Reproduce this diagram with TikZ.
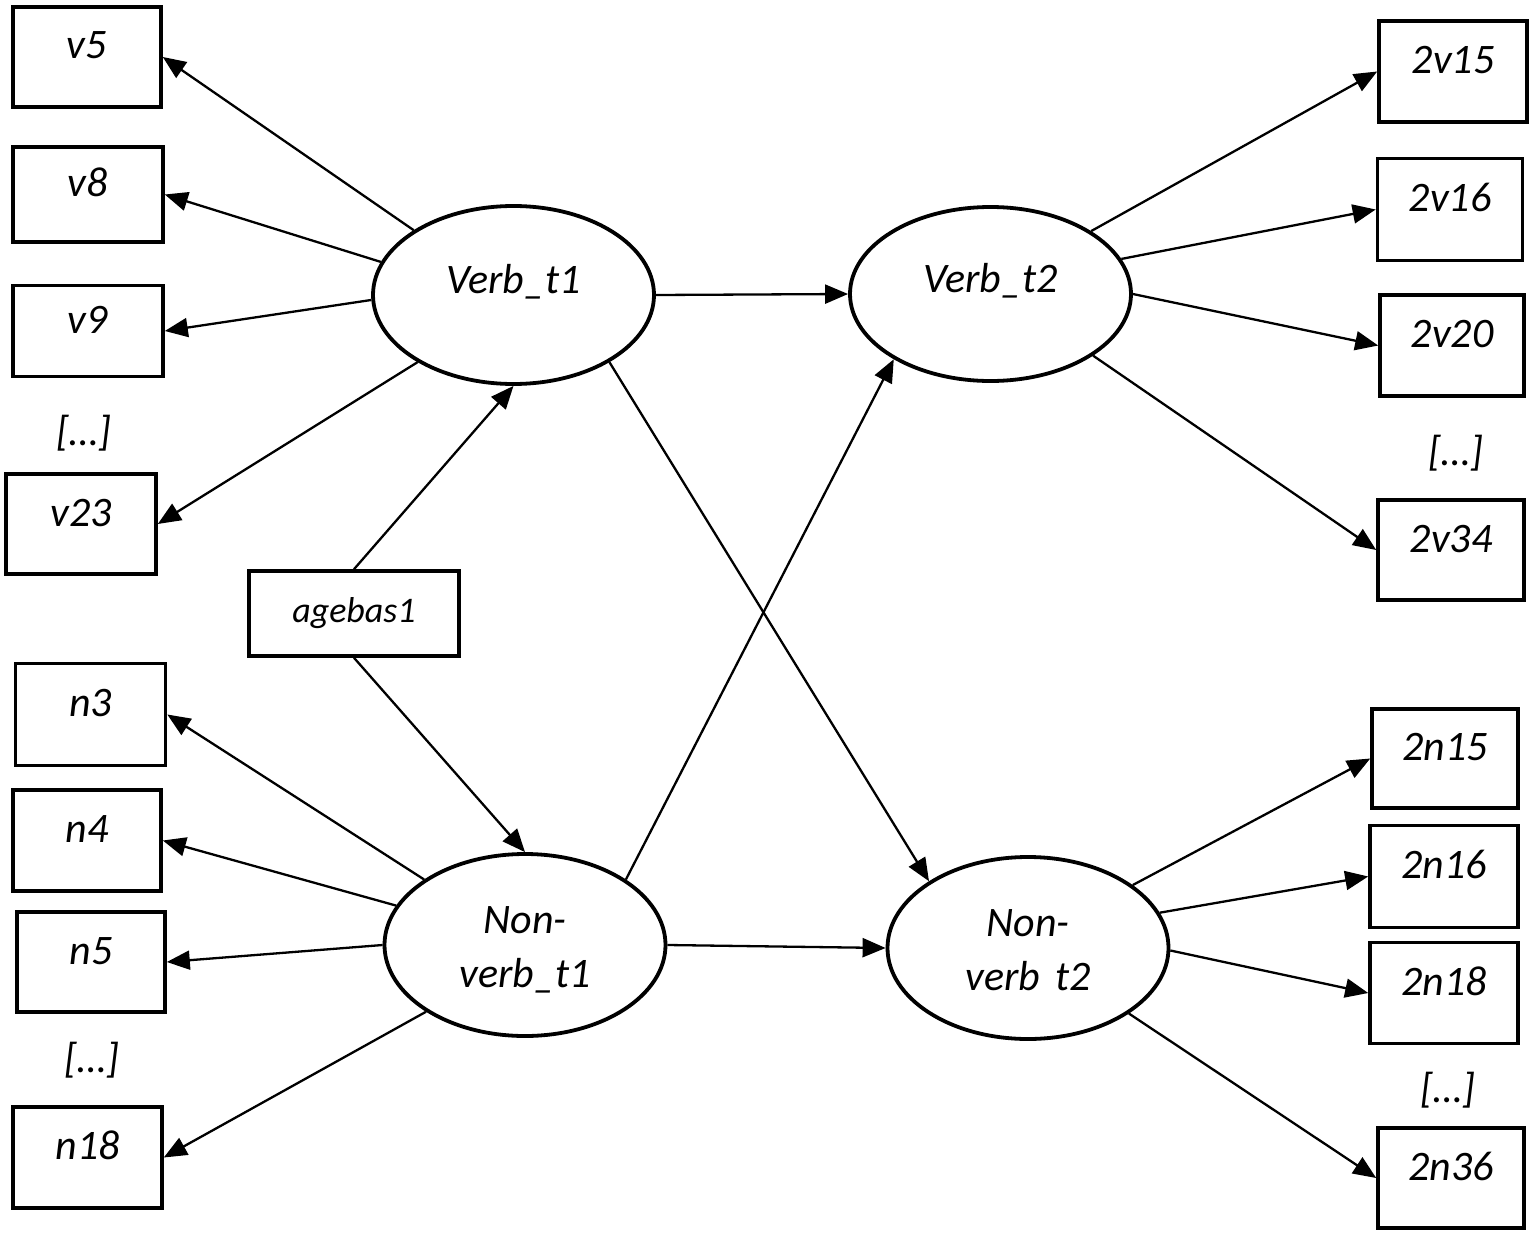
\documentclass[tikz,border=0pt]{standalone}
\usepackage{fontspec}
\setmainfont{Carlito}
\usetikzlibrary{shapes.geometric,arrows.meta}
\begin{document}
\begin{tikzpicture}[x=1pt,y=-1pt,
  box/.style={draw,line width=3.6pt,minimum width=148pt,minimum height=101pt,inner sep=0pt,
    font=\fontsize{42}{54}\selectfont\itshape,text height=30pt,text depth=26pt},
  lat/.style={draw,ellipse,line width=3.8pt,minimum width=281pt,minimum height=178pt,inner sep=0pt,
    font=\fontsize{42}{54}\selectfont\itshape},
  oneline/.style={text height=29pt,text depth=33pt},
  twoline/.style={text height=30pt,text depth=54pt},
  dots/.style={font=\fontsize{42}{54}\selectfont\itshape,inner sep=0pt},
  arr/.style={line width=2.3pt,-{Triangle[length=23pt,width=19pt]}}]
\useasboundingbox (0,0) rectangle (1535,1239);

% latent variables
\node[lat,oneline] (vt1) at (513.5,295) {Verb\_t1};
\node[lat,oneline,minimum height=174pt] (vt2) at (990.5,294) {Verb\_t2};
\node[lat,twoline,minimum height=182pt] (nvt1) at (525,945) {\begin{tabular}[t]{@{}c@{}}Non-\\verb\_t1\end{tabular}};
\node[lat,twoline,minimum height=182pt] (nvt2) at (1028,948) {\begin{tabular}[t]{@{}c@{}}Non-\\verb\hspace{15pt}t2\end{tabular}};

% covariate
\node[box,minimum width=210pt,minimum height=85pt,font=\fontsize{36}{44}\selectfont\itshape,text height=26pt,text depth=9pt] (age) at (354,613.5) {agebas1};

% left indicators
\node[box,minimum height=100pt] (v5) at (87,57) {v5};
\node[box,minimum width=150pt,minimum height=95pt] (v8) at (88,194.5) {v8};
\node[box,minimum width=150pt,minimum height=91pt] (v9) at (88,331) {v9};
\node[dots] (ldotsv) at (84,433) {[…]};
\node[box,minimum width=150pt,minimum height=100pt] (v23) at (81,524) {v23};

\node[box,minimum width=150pt,minimum height=102pt] (n3) at (90.5,714.5) {n3};
\node[box,minimum height=101pt] (n4) at (87,840.5) {n4};
\node[box,minimum height=100pt] (n5) at (91,962) {n5};
\node[dots] (ldotsn) at (92,1060) {[…]};
\node[box,minimum width=149pt,minimum height=101pt] (n18) at (87.5,1157.5) {n18};

% right indicators
\node[box,minimum height=101pt] (r2v15) at (1453,71.5) {2v15};
\node[box,minimum width=145pt,minimum height=102pt] (r2v16) at (1450,209.5) {2v16};
\node[box,minimum width=144pt,minimum height=101pt] (r2v20) at (1452,345.5) {2v20};
\node[dots] (rdotsv) at (1456,453) {[…]};
\node[box,minimum width=146pt,minimum height=100pt] (r2v34) at (1451,550) {2v34};

\node[box,minimum width=146pt,minimum height=99pt] (r2n15) at (1445,758.5) {2n15};
\node[box,minimum height=102pt] (r2n16) at (1444,876.5) {2n16};
\node[box,minimum height=101pt] (r2n18) at (1444,993) {2n18};
\node[dots] (rdotsn) at (1448,1090) {[…]};
\node[box,minimum width=146pt,minimum height=100pt] (r2n36) at (1451,1178) {2n36};

% loadings, left
\draw[arr] (vt1.147.7) -- (v5.east);
\draw[arr] (vt1.166.7) -- (v8.east);
\draw[arr] (vt1.182) -- (v9.east);
\draw[arr] (vt1.215) -- (v23.east);
\draw[arr] (nvt1.147) -- (n3.east);
\draw[arr] (nvt1.163.5) -- (n4.east);
\draw[arr] (nvt1.180) -- (n5.east);
\draw[arr] (nvt1.214.4) -- (n18.east);

% loadings, right
\draw[arr] (vt2.32.6) -- (r2v15.west);
\draw[arr] (vt2.15.3) -- (r2v16.west);
\draw[arr] (vt2.0) -- (r2v20.west);
\draw[arr] (vt2.-31.5) -- (r2v34.west);
\draw[arr] (nvt2.31.4) -- (r2n15.west);
\draw[arr] (nvt2.15.3) -- (r2n16.west);
\draw[arr] (nvt2.-1) -- (r2n18.west);
\draw[arr] (nvt2.-33.3) -- (r2n36.west);

% structural paths
\draw[arr] (vt1.0) -- (vt2.180);
\draw[arr] (vt1.-35.3) -- (nvt2.146);
\draw[arr] (nvt1.33) -- (vt2.214);
\draw[arr] (nvt1.0) -- (nvt2.180);
\draw[arr] (age.north) -- (vt1.south);
\draw[arr] (age.south) -- (nvt1.north);
\end{tikzpicture}
\end{document}
